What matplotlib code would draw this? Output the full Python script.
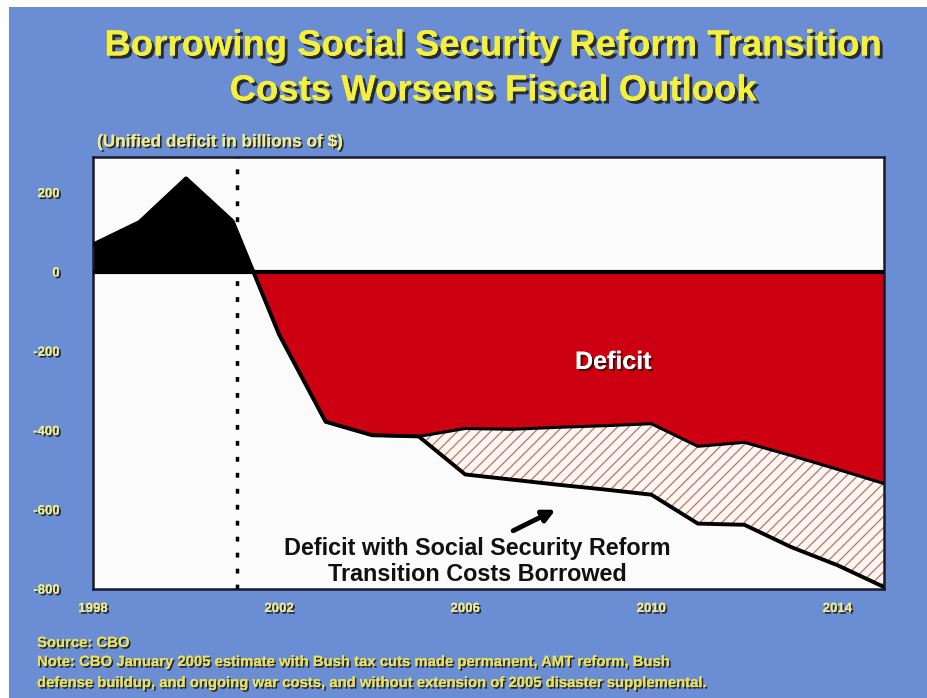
import matplotlib
matplotlib.use("Agg")
import matplotlib.pyplot as plt
import matplotlib.patheffects as pe
import numpy as np

# ---- data (billions of $) ----
years = [1998, 1999, 2000, 2001, 2002, 2003, 2004, 2005, 2006, 2007, 2008,
         2009, 2010, 2011, 2012, 2013, 2014, 2015]
unified_deficit = [69, 126, 236, 128, -158, -378, -412, -415, -395, -397, -392,
                   -388, -383, -440, -430, -463, -498, -534]
deficit_with_reform = [69, 126, 236, 128, -158, -378, -412, -415, -511, -524, -537,
                       -549, -562, -635, -638, -694, -740, -795]
y_ticks = [200, 0, -200, -400, -600, -800]
x_ticks = [1998, 2002, 2006, 2010, 2014]

title_lines = ["Borrowing Social Security Reform Transition",
               "Costs Worsens Fiscal Outlook"]
unit_label = "(Unified deficit in billions of $)"
notes = ["Source: CBO",
         "Note: CBO January 2005 estimate with Bush tax cuts made permanent, AMT reform, Bush",
         "defense buildup, and ongoing war costs, and without extension of 2005 disaster supplemental."]

BLUE = "#6A8DD3"
RED = "#CC0010"
YEL = "#F4F03C"
PALE_YEL = "#EDEB8C"
FONT = "Liberation Sans"

yrs = np.array(years, dtype=float)
d = np.array(unified_deficit, dtype=float)
r = np.array(deficit_with_reform, dtype=float)

plt.rcParams['hatch.linewidth'] = 0.9
plt.rcParams['hatch.color'] = "#BC7464"

fig = plt.figure(figsize=(9.28, 6.98), dpi=100, facecolor="white")
# blue slide background with white margin top/left
bg = fig.add_axes([9/928, 0, 1 - 9/928, 1 - 7/698])
bg.set_facecolor(BLUE)
bg.set_xticks([]); bg.set_yticks([])
for s in bg.spines.values():
    s.set_visible(False)
bg.set_zorder(0)

ax = fig.add_axes([93/928, 1 - 589/698, (884 - 93)/928, (589 - 157)/698])
ax.set_zorder(1)
ax.set_facecolor("#FBFBFB")
ax.set_xlim(1998, 2015)
ax.set_ylim(-800, 290)

# surplus (black) and deficit (red)
ax.fill_between(yrs, d, 0, where=d >= 0, interpolate=True, color="black", lw=0, zorder=2)
ax.fill_between(yrs, d, 0, where=d <= 0, interpolate=True, color=RED, lw=0, zorder=2)
# transition cost hatched area
ax.fill_between(yrs, d, r, facecolor="#FDF5F1", edgecolor="#BC7464", hatch="///", lw=0, zorder=2)

ax.plot(yrs, d, color="black", lw=2.2, zorder=3)
ax.plot(yrs, r, color="black", lw=2.8, zorder=3)
ax.axhline(0, color="black", lw=3, zorder=4)
ax.axvline(2001.1, color="black", lw=2.5, ls=(0, (1.4, 3.2)), zorder=4)

for s in ax.spines.values():
    s.set_color("#1A1A2A")
    s.set_linewidth(1.8)

shadow = [pe.withSimplePatchShadow(offset=(1.3, -1.3), shadow_rgbFace="#1A1A1A", alpha=0.9), pe.Normal()]
ax.set_yticks(y_ticks)
ax.set_xticks(x_ticks)
ax.set_yticklabels([str(v) for v in y_ticks])
ax.set_xticklabels([str(v) for v in x_ticks])
ax.tick_params(axis="y", length=0, pad=24)
ax.tick_params(axis="x", length=0, pad=10)
for lab in ax.get_xticklabels() + ax.get_yticklabels():
    lab.set_fontfamily(FONT)
    lab.set_fontweight("bold")
    lab.set_fontsize(9.5)
    lab.set_color(PALE_YEL)
    lab.set_path_effects(shadow)

ax.text(2009.18, -227, "Deficit", color="white", fontsize=18, fontweight="bold",
        family=FONT, ha="center", va="center", zorder=5,
        path_effects=[pe.withSimplePatchShadow(offset=(1.5, -1.5), shadow_rgbFace="#300000", alpha=0.8), pe.Normal()])
ax.text(2006.26, -730, "Deficit with Social Security Reform\nTransition Costs Borrowed",
        color="#111111", fontsize=16.8, fontweight="bold", family=FONT,
        ha="center", va="center", linespacing=1.18, zorder=5)
ax.annotate("", xy=(2007.94, -600), xytext=(2007.03, -653),
            arrowprops=dict(arrowstyle="-|>", lw=3.5, color="black", mutation_scale=18,
                            shrinkA=0, shrinkB=0), zorder=5)

tshadow = [pe.withSimplePatchShadow(offset=(2.2, -2.2), shadow_rgbFace="#202020", alpha=0.9), pe.Normal()]
fig.text(0.531, 1 - 46/698, title_lines[0], ha="center", va="center", fontsize=26.3,
         fontweight="bold", family=FONT, color=YEL, path_effects=tshadow, zorder=5)
fig.text(0.531, 1 - 91/698, title_lines[1], ha="center", va="center", fontsize=26.3,
         fontweight="bold", family=FONT, color=YEL, path_effects=tshadow, zorder=5)

sshadow = [pe.withSimplePatchShadow(offset=(1.2, -1.2), shadow_rgbFace="#1A1A1A", alpha=0.9), pe.Normal()]
fig.text(97/928, 1 - 142/698, unit_label, ha="left", va="center", fontsize=12.4,
         fontweight="bold", family=FONT, color=PALE_YEL, path_effects=sshadow, zorder=5)
for line, yp in zip(notes, [643, 662, 683]):
    fig.text(37/928, 1 - yp/698, line, ha="left", va="center", fontsize=10.7,
             fontweight="bold", family=FONT, color="#E9E15A",
             path_effects=sshadow, zorder=5)

fig.savefig("out.png", dpi=100, facecolor="white")
